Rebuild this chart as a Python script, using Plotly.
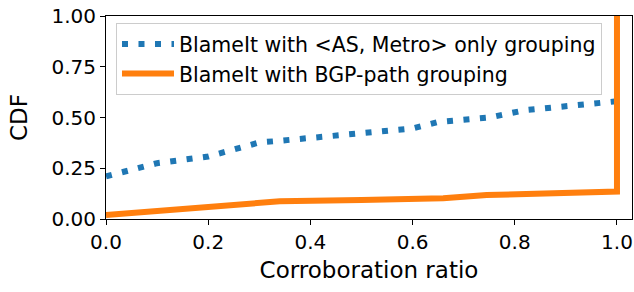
import plotly.graph_objects as go

as_metro_x = [0.0, 0.1, 0.2, 0.3, 0.33, 0.6, 0.65, 0.72, 0.75, 0.82, 1.0]
as_metro_y = [0.21, 0.275, 0.308, 0.377, 0.383, 0.446, 0.478, 0.49, 0.50, 0.536, 0.58]

bgp_x = [0.0, 0.34, 0.5, 0.66, 0.745, 1.0, 1.0]
bgp_y = [0.02, 0.087, 0.094, 0.102, 0.118, 0.135, 1.0]

names = ["BlameIt with <AS, Metro> only grouping", "BlameIt with BGP-path grouping"]
xticks = [0.0, 0.2, 0.4, 0.6, 0.8, 1.0]
yticks = [0.0, 0.25, 0.5, 0.75, 1.0]

font = "DejaVu Sans"
fig = go.Figure()
fig.add_trace(go.Scatter(x=as_metro_x, y=as_metro_y, mode="lines", name=names[0],
                         line=dict(color="#1f77b4", width=6, dash="6px,10.5px")))
fig.add_trace(go.Scatter(x=bgp_x, y=bgp_y, mode="lines", name=names[1],
                         line=dict(color="#ff7f0e", width=6)))

axis_common = dict(showline=True, linecolor="black", linewidth=1, mirror=True,
                   ticks="outside", ticklen=5, tickwidth=1, tickcolor="black",
                   showgrid=False, zeroline=False,
                   tickfont=dict(family=font, size=20, color="black"))
fig.update_xaxes(range=[0, 1.0294], tickvals=xticks, ticktext=["0.0", "0.2", "0.4", "0.6", "0.8", "1.0"],
                 title=dict(text="Corroboration ratio", font=dict(family=font, size=23, color="black"), standoff=8),
                 **axis_common)
fig.update_yaxes(range=[0, 1], tickvals=yticks, ticktext=["0.00", "0.25", "0.50", "0.75", "1.00"],
                 title=dict(text="CDF", font=dict(family=font, size=23, color="black"), standoff=17),
                 **axis_common)
fig.update_layout(
    width=634, height=292,
    margin=dict(l=106, r=2, t=16, b=73),
    plot_bgcolor="white", paper_bgcolor="white",
    legend=dict(x=0.019, y=0.965, xanchor="left", yanchor="top",
                bgcolor="rgba(255,255,255,0.8)", bordercolor="#cccccc", borderwidth=1,
                font=dict(family=font, size=20.5, color="black"), tracegroupgap=0, itemwidth=52),
    showlegend=True,
)
fig.write_html("out.html", config={"displayModeBar": False},
               post_script="document.body.style.margin='0';")
